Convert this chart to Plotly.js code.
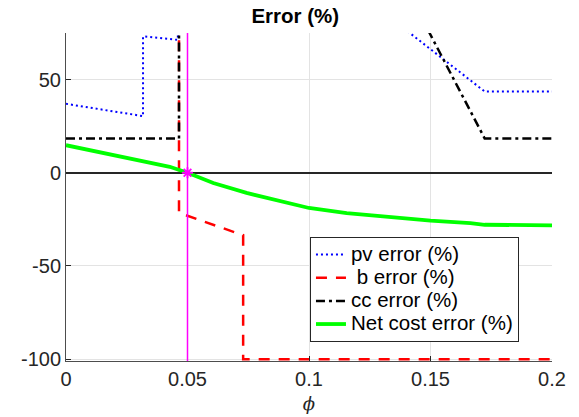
<!DOCTYPE html>
<html>
<head>
<meta charset="utf-8">
<script src="https://cdn.plot.ly/plotly-3.0.1.min.js"></script>
<style>html,body{margin:0;padding:0;background:#fff;}#chart{width:579px;height:417px;}</style>
</head>
<body>
<div id="chart"></div>
<script>
// ---- data ----
const phi_pv = [0, 0.0317, 0.0317, 0.046, 0.0465, 0.13, 0.1723, 0.2];
const pv_err = [37, 30.4, 73.2, 71.3, 110, 86.7, 43.6, 43.6];

const phi_b = [0, 0.0465, 0.0465, 0.049, 0.0712, 0.0729, 0.0729, 0.2];
const b_err = [150, 150, -21.5, -22.6, -32.4, -33.5, -100, -100];

const phi_cc = [0, 0.0465, 0.0465, 0.14, 0.1723, 0.2];
const cc_err = [18.4, 18.4, 120, 99, 18.4, 18.4];

const phi_net = [0, 0.01, 0.02, 0.03, 0.0427, 0.05, 0.0606, 0.0743, 0.088, 0.1, 0.1155, 0.127, 0.14, 0.15, 0.1664, 0.1723, 0.2];
const net_err = [14.8, 12.1, 9.5, 6.8, 3.2, 0, -5.5, -10.8, -15.2, -18.9, -21.7, -23.2, -24.6, -25.7, -27.0, -27.9, -28.2];

const phiStar = [0.05];
const errStar = [0];

const seriesNames = ['pv error (%)', ' b error (%)', 'cc error (%)', 'Net cost error (%)'];
const xTickVals = [0, 0.05, 0.1, 0.15, 0.2];
const xTickText = ['0', '0.05', '0.1', '0.15', '0.2'];
const yTickVals = [-100, -50, 0, 50];
const yTickText = ['-100', '-50', '0', '50'];

const FONT = 'Liberation Sans, Arial, Helvetica, sans-serif';
const legendLabel = s => '<span style="font-size:20.5px">' + s + '</span>';

const traces = [
  {x: phi_pv, y: pv_err, name: legendLabel(seriesNames[0]), mode: 'lines',
   line: {color: '#0000ff', width: 2, dash: '2px,3px'}},
  {x: phi_b, y: b_err, name: legendLabel(seriesNames[1]), mode: 'lines',
   line: {color: '#ff0000', width: 2.5, dash: '11px,9px'}},
  {x: phi_cc, y: cc_err, name: legendLabel(seriesNames[2]), mode: 'lines',
   line: {color: '#000000', width: 2.5, dash: '9px,4px,3px,4px'}},
  {x: phi_net, y: net_err, name: legendLabel(seriesNames[3]), mode: 'lines',
   line: {color: '#00ff00', width: 3.8}},
  {x: phiStar, y: errStar, mode: 'markers', showlegend: false, hoverinfo: 'skip',
   marker: {symbol: 'asterisk-open', size: 9, color: '#ff00ff', line: {color: '#ff00ff', width: 1.8}}}
];

const layout = {
  width: 579, height: 417,
  margin: {l: 66, r: 27, t: 33, b: 56},
  paper_bgcolor: '#ffffff', plot_bgcolor: '#ffffff',
  font: {family: FONT, size: 20, color: '#262626'},
  title: {text: '<b>Error (%)</b>', font: {family: FONT, size: 20.5, color: '#000000'},
          x: 0.51, xref: 'container', xanchor: 'center', y: 0.962, yref: 'container', yanchor: 'middle'},
  xaxis: {range: [0, 0.2], tickvals: xTickVals, ticktext: xTickText,
          ticks: 'inside', ticklen: 5, tickcolor: '#262626',
          showline: true, linecolor: '#4d4d4d', linewidth: 1, mirror: false,
          showgrid: true, gridcolor: '#e3e3e3', gridwidth: 1, zeroline: false,
          tickfont: {family: FONT, size: 20, color: '#262626'},
          title: {text: '<i>ϕ</i>', font: {family: 'DejaVu Serif, serif', size: 18, color: '#262626'}, standoff: 8}},
  yaxis: {range: [-101, 75], tickvals: yTickVals, ticktext: yTickText,
          ticks: 'inside', ticklen: 5, tickcolor: '#262626',
          showline: true, linecolor: '#4d4d4d', linewidth: 1, mirror: false,
          showgrid: true, gridcolor: '#e3e3e3', gridwidth: 1,
          zeroline: true, zerolinecolor: '#262626', zerolinewidth: 1.5,
          tickfont: {family: FONT, size: 20, color: '#262626'}},
  shapes: [{type: 'line', xref: 'x', yref: 'paper', x0: phiStar[0], x1: phiStar[0], y0: 0, y1: 1,
            line: {color: '#ff00ff', width: 1.5}, layer: 'above'}],
  legend: {x: 0.502, xanchor: 'left', y: 0.378, yanchor: 'top',
           bgcolor: '#ffffff', bordercolor: '#262626', borderwidth: 1,
           font: {family: FONT, size: 15.5, color: '#000000'}, tracegroupgap: 0, itemwidth: 30},
  showlegend: true
};

Plotly.newPlot('chart', traces, layout, {displayModeBar: false, staticPlot: true});
</script>
</body>
</html>
